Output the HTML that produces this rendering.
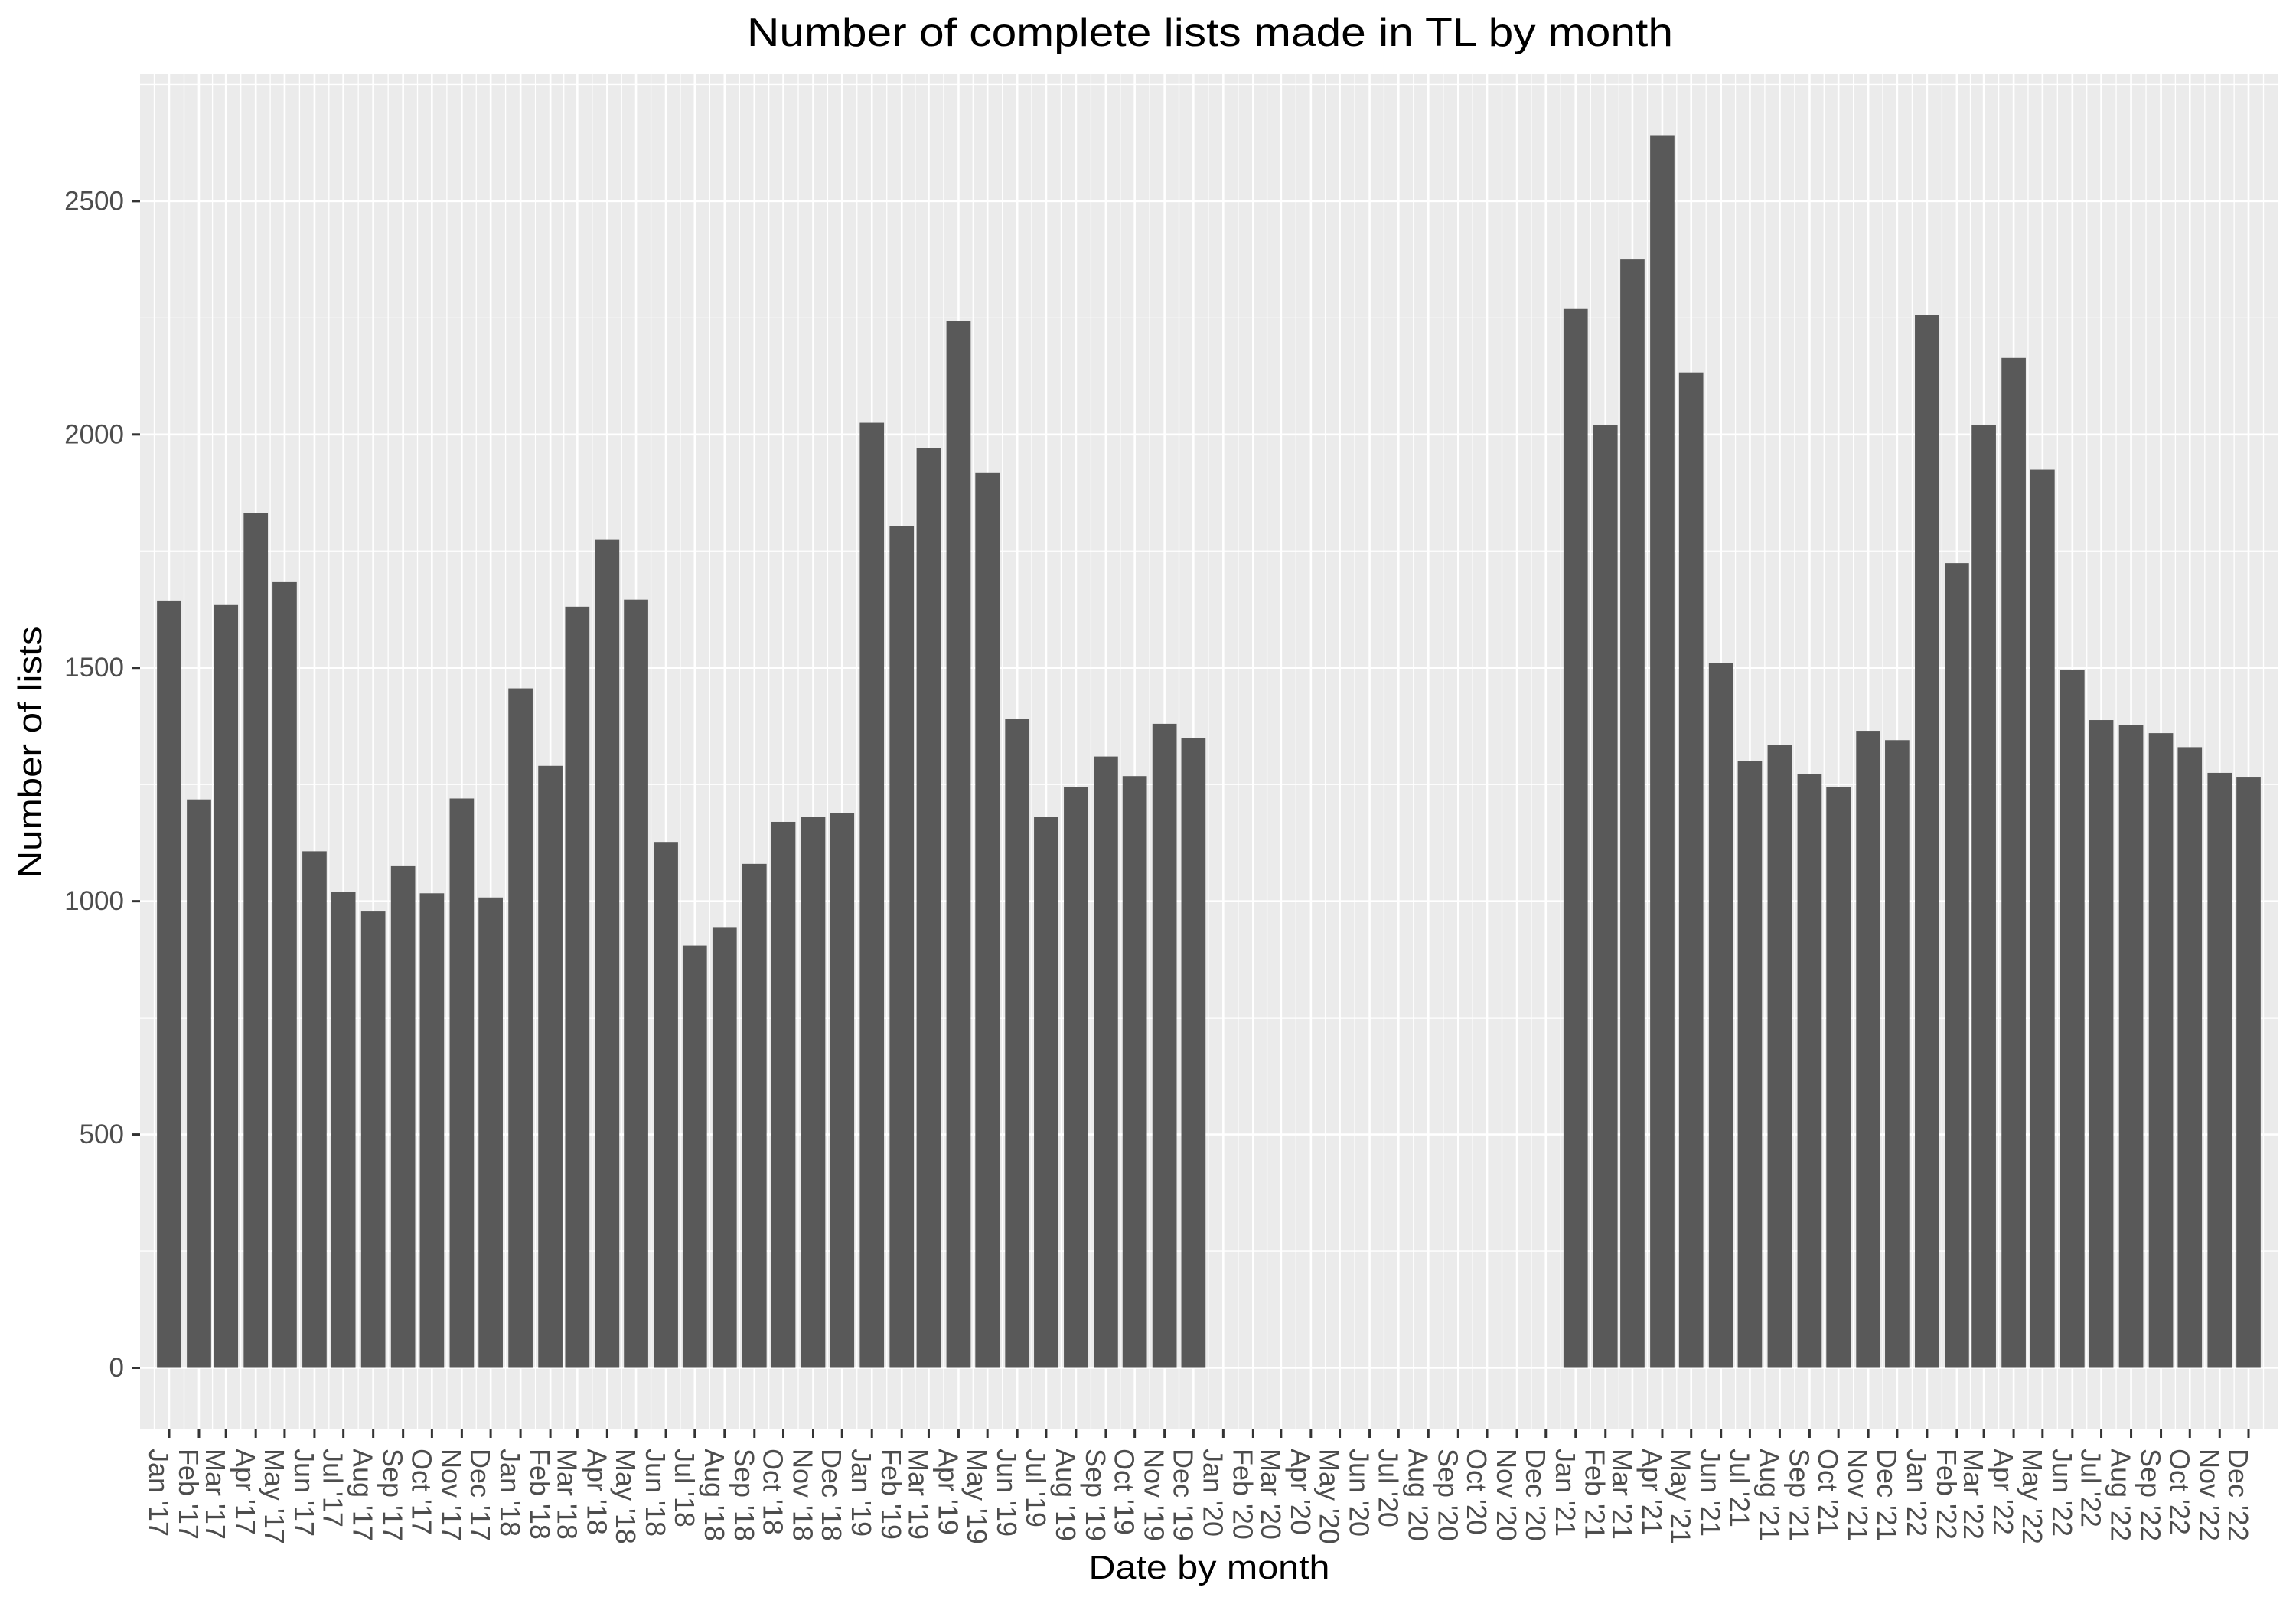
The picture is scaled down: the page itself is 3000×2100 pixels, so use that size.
<!DOCTYPE html>
<html><head><meta charset="utf-8"><title>Number of complete lists made in TL by month</title>
<style>html,body{margin:0;padding:0;background:#fff;}svg{display:block;}</style></head>
<body>
<svg id="chart" xmlns="http://www.w3.org/2000/svg" width="3000" height="2100" viewBox="0 0 3000 2100" font-family="'Liberation Sans', sans-serif">
<rect x="0" y="0" width="3000" height="2100" fill="#ffffff"/>
<text x="1581" y="60" text-anchor="middle" font-size="52" fill="#000" textLength="1210" lengthAdjust="spacingAndGlyphs">Number of complete lists made in TL by month</text>
<g id="plot"></g>
<text x="1580" y="2063" text-anchor="middle" font-size="44" fill="#000" textLength="315" lengthAdjust="spacingAndGlyphs">Date by month</text>
<text transform="translate(54,983) rotate(-90)" text-anchor="middle" font-size="44" fill="#000" textLength="329" lengthAdjust="spacingAndGlyphs">Number of lists</text>
</svg>
<script>
const monthNames = ["Jan","Feb","Mar","Apr","May","Jun","Jul","Aug","Sep","Oct","Nov","Dec"];
const years = [2017,2018,2019,2020,2021,2022];
const values2017 = [1644,1218,1636,1831,1685,1107,1020,978,1075,1017,1220,1008];
const values2018 = [1456,1290,1631,1774,1646,1127,905,943,1080,1170,1180,1188];
const values2019 = [2025,1804,1971,2243,1918,1390,1180,1245,1310,1268,1380,1350];
const values2020 = [null,null,null,null,null,null,null,null,null,null,null,null];
const values2021 = [2269,2021,2375,2640,2133,1510,1300,1335,1272,1245,1365,1345];
const values2022 = [2257,1724,2021,2164,1925,1495,1388,1377,1360,1330,1275,1265];
const yTicks = [0,500,1000,1500,2000,2500];
const yMinorTicks = [250,750,1250,1750,2250,2750];

const allValues = [values2017,values2018,values2019,values2020,values2021,values2022];
const NS = "http://www.w3.org/2000/svg";
const plot = document.getElementById('plot');
const PL = 183, PR = 2976, PT = 97, PB = 1868;
const DAY = 86400000;
const t0 = Date.UTC(2017,0,1), t1 = Date.UTC(2022,11,1);
const xPad = 30.2;
const pxPerDay = (PR - PL) / ((t1 - t0) / DAY + 2 * xPad);
function xScale(t){ return PL + ((t - t0) / DAY + xPad) * pxPerDay; }
let vmax = 0;
allValues.forEach(a => a.forEach(v => { if (v !== null && v > vmax) vmax = v; }));
const yLo = -0.05 * vmax, yHi = vmax * 1.05;
function yScale(v){ return PB - (v - yLo) / (yHi - yLo) * (PB - PT); }

function mk(tag, attrs){ const e = document.createElementNS(NS, tag); for (const k in attrs) e.setAttribute(k, attrs[k]); return e; }

const bg = mk('rect',{x:PL,y:PT,width:PR-PL,height:PB-PT,fill:'#EBEBEB'});


plot.appendChild(bg);

const monthTimes = [];
const monthLabels = [];
years.forEach(y => monthNames.forEach((m,i) => { monthTimes.push(Date.UTC(y,i,1)); monthLabels.push(m + " '" + String(y).slice(2)); }));
const monthX = monthTimes.map(xScale);

yMinorTicks.forEach(v => {
  const y = yScale(v);
  if (y < PT || y > PB) return;
  const l = mk('line',{x1:PL,x2:PR,y1:y,y2:y,stroke:'#fff','stroke-width':1.3});
  
  
  plot.appendChild(l);
});
const minorX = [];
for (let i = 0; i < monthX.length - 1; i++) minorX.push((monthX[i] + monthX[i+1]) / 2);
minorX.push(monthX[0] - (monthX[1] - monthX[0]) / 2);
minorX.push(monthX[monthX.length-1] + (monthX[1] - monthX[0]) / 2);
minorX.forEach(x => {
  const l = mk('line',{x1:x,x2:x,y1:PT,y2:PB,stroke:'#fff','stroke-width':1.3});
  
  
  plot.appendChild(l);
});
yTicks.forEach(v => {
  const y = yScale(v);
  const l = mk('line',{x1:PL,x2:PR,y1:y,y2:y,stroke:'#fff','stroke-width':2.6});
  
  
  plot.appendChild(l);
});
monthX.forEach(x => {
  const l = mk('line',{x1:x,x2:x,y1:PT,y2:PB,stroke:'#fff','stroke-width':2.6});
  
  
  plot.appendChild(l);
});

const barW = 0.9 * 28 * pxPerDay;
allValues.forEach((arr, yi) => arr.forEach((v, mi) => {
  const x = monthX[yi*12 + mi];
  if (v !== null) {
    const y = yScale(v), y0 = yScale(0);
    const r = mk('rect',{x:x-barW/2,y:y,width:barW,height:y0-y,fill:'#595959'});
    
    
    plot.appendChild(r);
  }
}));

yTicks.forEach(v => {
  const y = yScale(v);
  const t = mk('line',{x1:PL-11,x2:PL,y1:y,y2:y,stroke:'#333','stroke-width':3});
  
  
  plot.appendChild(t);
  const tx = mk('text',{x:162,y:y,'text-anchor':'end','dominant-baseline':'central','font-size':35,fill:'#4D4D4D'});
  tx.textContent = String(v);
  
  
  plot.appendChild(tx);
});
monthX.forEach((x, i) => {
  const t = mk('line',{x1:x,x2:x,y1:PB,y2:PB+11,stroke:'#333','stroke-width':3});
  
  
  plot.appendChild(t);
  const tx = mk('text',{transform:'translate(' + (x - 26) + ',1893) rotate(90)','text-anchor':'start','font-size':36,fill:'#4D4D4D'});
  tx.textContent = monthLabels[i];
  
  
  plot.appendChild(tx);
});
</script>
</body></html>
